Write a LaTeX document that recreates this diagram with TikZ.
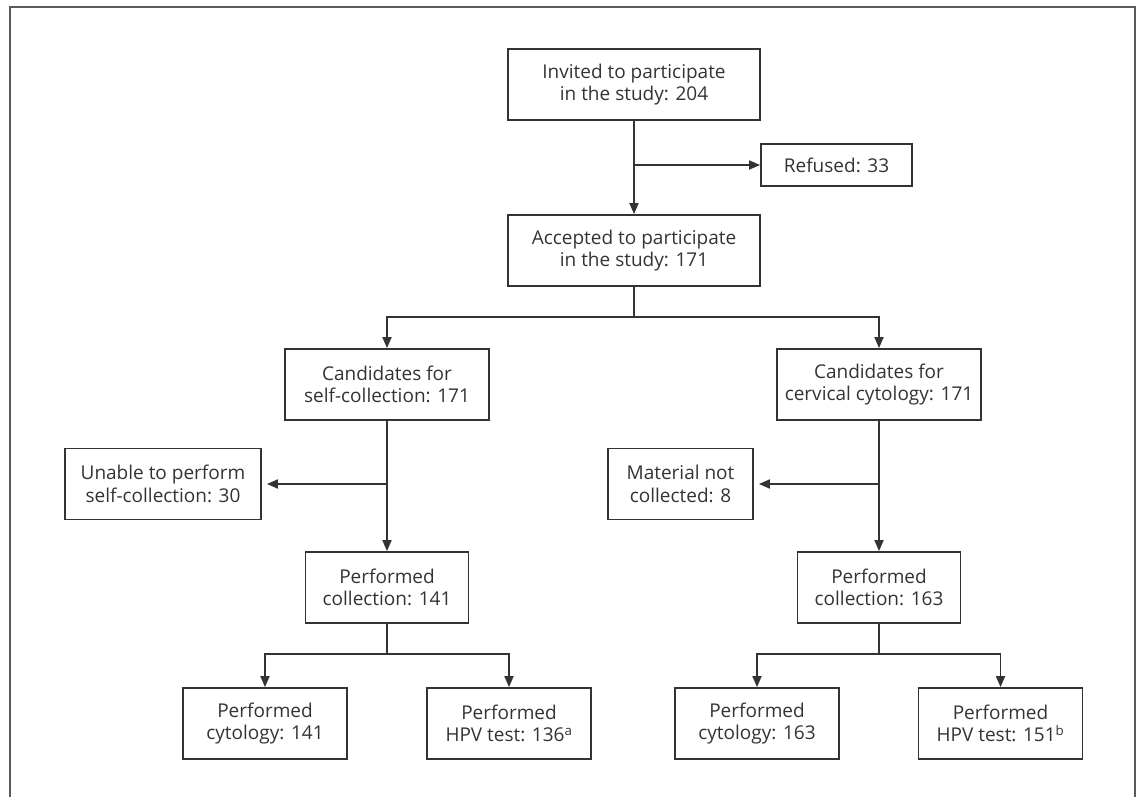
\documentclass[tikz,border=0pt]{standalone}
\usepackage{fontspec}
\setmainfont{Open Sans}
\usepackage{xcolor}
\usepackage{tikz}
\usetikzlibrary{arrows.meta,calc}
\definecolor{ink}{RGB}{51,51,51}
\definecolor{frame}{RGB}{90,90,90}

\begin{document}
\begin{tikzpicture}[x=1pt,y=-1pt,>={Triangle[length=11pt,width=9pt]},
  every node/.style={font=\fontsize{19}{22.5}\selectfont,text=ink},
  box/.style={draw=ink,line width=1.8pt,align=center,inner sep=0pt,minimum height=71pt},
  link/.style={draw=ink,line width=1.8pt}]
\useasboundingbox (0,0) rectangle (1137,797);
\draw[frame,line width=2.4pt] (10,797) -- (10,7) -- (1135,7) -- (1135,797);
\node[box,minimum width=252pt] (invited) at (634,84.5) {Invited to participate\\in the study: 204};
\node[box,minimum width=151pt,minimum height=42pt] (refused) at (836.5,165) {Refused: 33};
\node[box,minimum width=252pt] (accepted) at (634,250.5) {Accepted to participate\\in the study: 171};
\node[box,minimum width=204pt] (candself) at (387,384.5) {Candidates for\\self-collection: 171};
\node[box,minimum width=204pt] (candcerv) at (879,384.5) {Candidates for\\cervical cytology: 171};
\node[box,minimum width=196pt] (unable) at (163,484) {Unable to perform\\self-collection: 30};
\node[box,minimum width=145pt] (material) at (680.5,484) {Material not\\collected: 8};
\node[box,minimum width=163pt] (collself) at (387,587.5) {Performed\\collection: 141};
\node[box,minimum width=163pt] (collcerv) at (879,587.5) {Performed\\collection: 163};
\node[box,minimum width=164pt] (cytself) at (265,723.5) {Performed\\cytology: 141};
\node[box,minimum width=164pt] (hpvself) at (509,723.5) {Performed\\HPV test: 136\textsuperscript{a}};
\node[box,minimum width=164pt] (cytcerv) at (757,723.5) {Performed\\cytology: 163};
\node[box,minimum width=164pt] (hpvcerv) at (1000.5,723.5) {Performed\\HPV test: 151\textsuperscript{b}};
\coordinate (refsplit) at (invited.south |- refused.west);
\coordinate (accsplit) at ($(accepted.south)+(0,30)$);
\coordinate (unsplit) at (candself.south |- unable.east);
\coordinate (matsplit) at (candcerv.south |- material.east);
\coordinate (selfsplit) at ($(collself.south)+(0,30)$);
\coordinate (cervsplit) at ($(collcerv.south)+(0,30)$);
\draw[link,->] (invited) -- (accepted);
\draw[link,->] (refsplit) -- (refused);
\draw[link] (accepted) -- (accsplit);
\draw[link,->] (accsplit) -| (candself);
\draw[link,->] (accsplit) -| (candcerv);
\draw[link,->] (candself) -- (collself);
\draw[link,->,shorten >=5pt] (unsplit) -- (unable);
\draw[link,->] (candcerv) -- (collcerv);
\draw[link,->,shorten >=5pt] (matsplit) -- (material);
\draw[link] (collself) -- (selfsplit);
\draw[link,->] (selfsplit) -| (cytself);
\draw[link,->] (selfsplit) -| (hpvself);
\draw[link] (collcerv) -- (cervsplit);
\draw[link,->] (cervsplit) -| (cytcerv);
\draw[link,->] (cervsplit) -| (hpvcerv);
\end{tikzpicture}
\end{document}
